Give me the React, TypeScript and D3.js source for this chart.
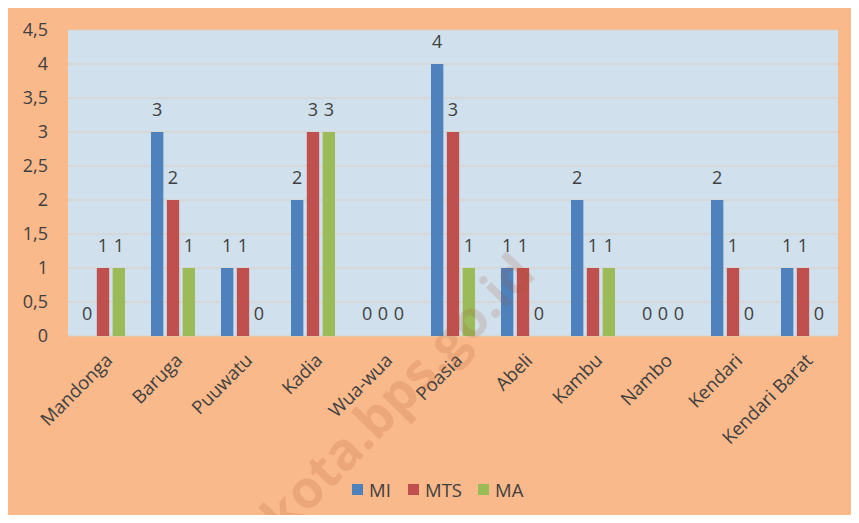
import React from 'react';
import * as d3 from 'd3';

// districts (kecamatan)
const categories = ['Mandonga', 'Baruga', 'Puuwatu', 'Kadia', 'Wua-wua', 'Poasia', 'Abeli', 'Kambu', 'Nambo', 'Kendari', 'Kendari Barat'];
const seriesNames = ['MI', 'MTS', 'MA'];
const miValues = [0, 3, 1, 2, 0, 4, 1, 2, 0, 2, 1];
const mtsValues = [1, 2, 1, 3, 0, 3, 1, 1, 0, 1, 1];
const maValues = [1, 1, 0, 3, 0, 1, 0, 1, 0, 0, 0];
const yTicks = [0, 0.5, 1, 1.5, 2, 2.5, 3, 3.5, 4, 4.5];

const COLORS = ['#4F81BD', '#C0504D', '#9BBB59'];
const FONT = '"Open Sans", "Noto Sans", sans-serif';
const TEXT = '#404040';

const W = 859;
const H = 523;
const plot = { left: 68, top: 30, right: 838, bottom: 336 };

export default function App() {
    const series = [miValues, mtsValues, maValues];

    const x = d3.scaleBand().domain(categories).range([plot.left, plot.right]).paddingInner(0).paddingOuter(0);
    const inner = d3.scaleBand().domain(seriesNames).range([0, 44]).paddingInner(0.22);
    const y = d3.scaleLinear().domain([0, 4.5]).range([plot.bottom, plot.top]);
    const fmt = (v: number) => String(v).replace('.', ',');
    const groupOffset = (x.bandwidth() - 44) / 2;

    return (
        <div style={{ margin: -8 }}>
            <svg width={W} height={H} style={{ display: 'block', background: '#fff' }}>
                <rect x={5.5} y={3.5} width={W - 5} height={H - 5} fill="#FAB98A" stroke="#D4D4D4" strokeWidth={1} />
                <rect x={plot.left} y={plot.top} width={plot.right - plot.left} height={plot.bottom - plot.top} fill="#D0E0EC" />

                {/* gridlines */}
                {yTicks.map(t => (
                    <line key={t} x1={plot.left} x2={plot.right} y1={y(t)} y2={y(t)} stroke="#DCCFC2" strokeWidth={1.2} />
                ))}

                {/* y tick labels */}
                {yTicks.map(t => (
                    <text key={'l' + t} x={48} y={y(t)} dy="0.35em" textAnchor="end" fontFamily={FONT} fontSize={18} fill={TEXT}>
                        {fmt(t)}
                    </text>
                ))}

                {/* bars + value labels */}
                {categories.map((c, i) => (
                    <g key={c} transform={`translate(${(x(c) as number) + groupOffset},0)`}>
                        {series.map((vals, s) => {
                            const bx = inner(seriesNames[s]) as number;
                            const v = vals[i];
                            return (
                                <g key={s}>
                                    {v > 0 && (
                                        <rect x={bx} y={y(v)} width={inner.bandwidth()} height={y(0) - y(v)} fill={COLORS[s]} />
                                    )}
                                    <text
                                        x={bx + inner.bandwidth() / 2}
                                        y={y(v) - 22}
                                        dy="0.35em"
                                        textAnchor="middle"
                                        fontFamily={FONT}
                                        fontSize={18}
                                        fill={TEXT}
                                    >
                                        {v}
                                    </text>
                                </g>
                            );
                        })}
                    </g>
                ))}

                {/* x labels */}
                {categories.map(c => {
                    const cx = (x(c) as number) + x.bandwidth() / 2 + 6;
                    return (
                        <text
                            key={'x' + c}
                            transform={`translate(${cx},${plot.bottom + 21}) rotate(-45)`}
                            textAnchor="end"
                            dy="0.35em"
                            fontFamily={FONT}
                            fontSize={18.5}
                            fill={TEXT}
                        >
                            {c}
                        </text>
                    );
                })}

                {/* legend */}
                {seriesNames.map((n, i) => {
                    const lx = [352, 408, 478][i];
                    return (
                        <g key={n} transform={`translate(${lx},484)`}>
                            <rect x={0} y={0} width={11} height={11} fill={COLORS[i]} />
                            <text x={17} y={6} dy="0.36em" fontFamily={FONT} fontSize={18.5} fill={TEXT}>
                                {n}
                            </text>
                        </g>
                    );
                })}

                {/* watermark */}
                <text
                    transform="translate(284,538) rotate(-46)"
                    fontFamily={FONT}
                    fontSize={52}
                    fontWeight="bold"
                    fill="#A0522D"
                    fillOpacity={0.17}
                >
                    kota.bps.go.id
                </text>
            </svg>
        </div>
    );
}
